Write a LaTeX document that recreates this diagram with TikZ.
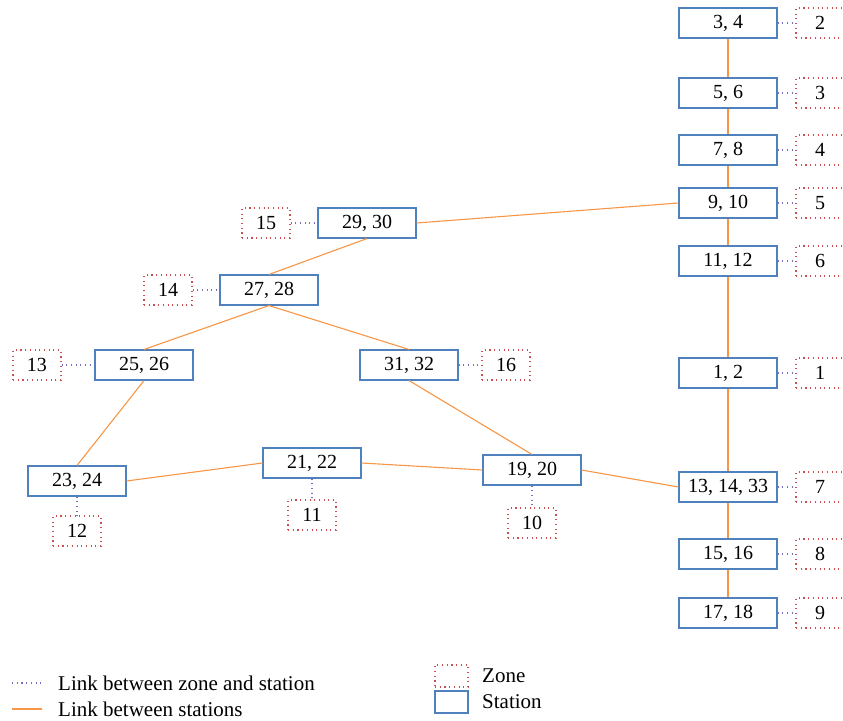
\documentclass[tikz,border=0pt]{standalone}
\usepackage{fontspec}
\setmainfont{Liberation Serif}
\definecolor{stationblue}{RGB}{79,129,189}
\definecolor{zonered}{RGB}{200,80,80}
\definecolor{linkorange}{RGB}{247,150,70}
\definecolor{linkpurple}{RGB}{120,110,190}
\begin{document}
\begin{tikzpicture}[
    x=1pt, y=-1pt,
    station/.style={draw=stationblue, line width=1.1pt, fill=white,
      minimum width=98pt, minimum height=30pt, inner sep=0pt, font=\fontsize{20}{22}\selectfont},
    zone/.style={draw=zonered, line width=1.1pt, dash pattern=on 1.1pt off 3.6pt,
      minimum width=48pt, minimum height=30pt, inner sep=0pt, font=\fontsize{20}{22}\selectfont},
    track/.style={draw=linkorange, line width=1.1pt},
    zlink/.style={draw=linkpurple, line width=1.1pt, dash pattern=on 1.1pt off 3.6pt},
    legend/.style={anchor=west, inner sep=0pt, font=\fontsize{21}{23}\selectfont}]
  \useasboundingbox (0,0) rectangle (843,720);

  % right column: stations and zones
  \foreach \nm/\txt/\y/\zn in {s34/{3, 4}/23/2, s56/{5, 6}/93/3, s78/{7, 8}/150/4,
      s910/{9, 10}/203/5, s1112/{11, 12}/261/6, s12/{1, 2}/373/1,
      s1333/{13, 14, 33}/487/7, s1516/{15, 16}/554/8, s1718/{17, 18}/613/9}{
    \node [station] (\nm) at (728,\y) {\txt};
    \node [zone] (z\zn) at (820,\y) {\zn};
    \draw [zlink] (\nm) -- (z\zn);
  }

  % left part
  \node [station] (s2930) at (367,223) {29, 30};
  \node [station] (s2728) at (269,290) {27, 28};
  \node [station] (s2526) at (144,365) {25, 26};
  \node [station] (s3132) at (409,365) {31, 32};
  \node [station] (s2324) at (77,481) {23, 24};
  \node [station] (s2122) at (312,463) {21, 22};
  \node [station] (s1920) at (532,470) {19, 20};

  \node [zone] (z15) at (266,223) {15};
  \node [zone] (z14) at (168,290) {14};
  \node [zone] (z13) at (37,365) {13};
  \node [zone] (z16) at (506,365) {16};
  \node [zone] (z12) at (77,531) {12};
  \node [zone] (z11) at (312,515) {11};
  \node [zone] (z10) at (532,523) {10};

  \foreach \a/\b in {z15/s2930, z14/s2728, z13/s2526, s3132/z16,
      s2324/z12, s2122/z11, s1920/z10}
    \draw [zlink] (\a) -- (\b);

  % links between stations
  \foreach \a/\b in {s34/s56, s56/s78, s78/s910, s910/s1112, s1112/s12,
      s12/s1333, s1333/s1516, s1516/s1718}
    \draw [track] (\a) -- (\b);
  \draw [track] (s910.west) -- (s2930.east);
  \draw [track] (s2930.south) -- (s2728.north);
  \draw [track] (s2728.south) -- (s2526.north);
  \draw [track] (s2728.south) -- (s3132.north);
  \draw [track] (s2526.south) -- (s2324.north);
  \draw [track] (s2324.east) -- (s2122.west);
  \draw [track] (s2122.east) -- (s1920.west);
  \draw [track] (s1920.east) -- (s1333.west);
  \draw [track] (s3132.south) -- (s1920.north);

  % legend
  \coordinate (lz1) at (12,683);
  \coordinate (lz2) at (42,683);
  \coordinate (ls1) at (12,709);
  \coordinate (ls2) at (42,709);
  \draw [zlink] (lz1) -- (lz2);
  \draw [track] (ls1) -- (ls2);
  \node [legend] (lzt) at (58,683) {Link between zone and station};
  \node [legend] (lst) at (58,709) {Link between stations};
  \node [zone, minimum width=33pt, minimum height=22pt] (lzone) at (451.5,676) {};
  \node [station, minimum width=33pt, minimum height=22pt] (lstation) at (451.5,702) {};
  \node [legend] (lzonet) at (482,676) {Zone};
  \node [legend] (lstationt) at (482,702) {Station};
\end{tikzpicture}
\end{document}
